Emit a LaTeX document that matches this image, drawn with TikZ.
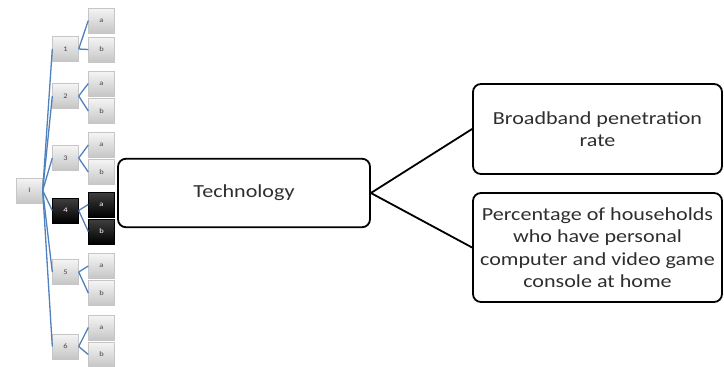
\documentclass[tikz,border=0pt]{standalone}
\usepackage{fontspec}
\setmainfont{Carlito}[FakeStretch=1.2]
\usetikzlibrary{positioning}
\definecolor{linkblue}{HTML}{4F81BD}

\begin{document}
\begin{tikzpicture}[x=1pt, y=-1pt, font=\fontsize{18.4}{22.5}\selectfont]
    \tikzstyle{keybox}=[draw=gray!45, top color=gray!8, bottom color=gray!45, minimum width=26pt, minimum height=25pt, inner sep=0pt, font=\fontsize{7}{7}\selectfont, text=gray!55!black]
    \tikzstyle{darkbox}=[keybox, draw=black, top color=black!75, bottom color=black, text=white]
    \tikzstyle{textbox}=[draw, line width=1.8pt, rounded corners=8pt, align=center, text=black!82]
    \tikzstyle{link}=[draw=linkblue, line width=1.3pt]

    \useasboundingbox (0,0) rectangle (724,367);

    \node[keybox] (root) at (29.5,190.5) {I};
    \foreach \n/\ym/\ya/\yb/\s in {1/49/20.5/49.5/keybox, 2/96/83.5/111/keybox, 3/158/145/172/keybox,
                                   4/210.5/204.5/231.5/darkbox, 5/272/266/293/keybox, 6/346.5/327.5/354.5/keybox} {
        \node[\s] (g\n) at (65.5,\ym) {\n};
        \node[\s] (a\n) at (101.5,\ya) {a};
        \node[\s] (b\n) at (101.5,\yb) {b};
        \draw[link] (root.east) -- (g\n.west);
        \draw[link] (g\n.east) -- (a\n.west);
        \draw[link] (g\n.east) -- (b\n.west);
    }

    \node[textbox, minimum width=252pt, minimum height=68.5pt] (tech) at (244,193) {Technology};
    \node[textbox, minimum width=249pt, minimum height=90pt] (broadband) at (597.5,129) {Broadband penetration\\rate};
    \node[textbox, minimum width=249pt, minimum height=109pt] (households) at (597.5,247.5) {Percentage of households\\who have personal\\computer and video game\\console at home};

    \draw[line width=1.8pt] (tech.east) -- (broadband.west);
    \draw[line width=1.8pt] (tech.east) -- (households.west);
\end{tikzpicture}
\end{document}
